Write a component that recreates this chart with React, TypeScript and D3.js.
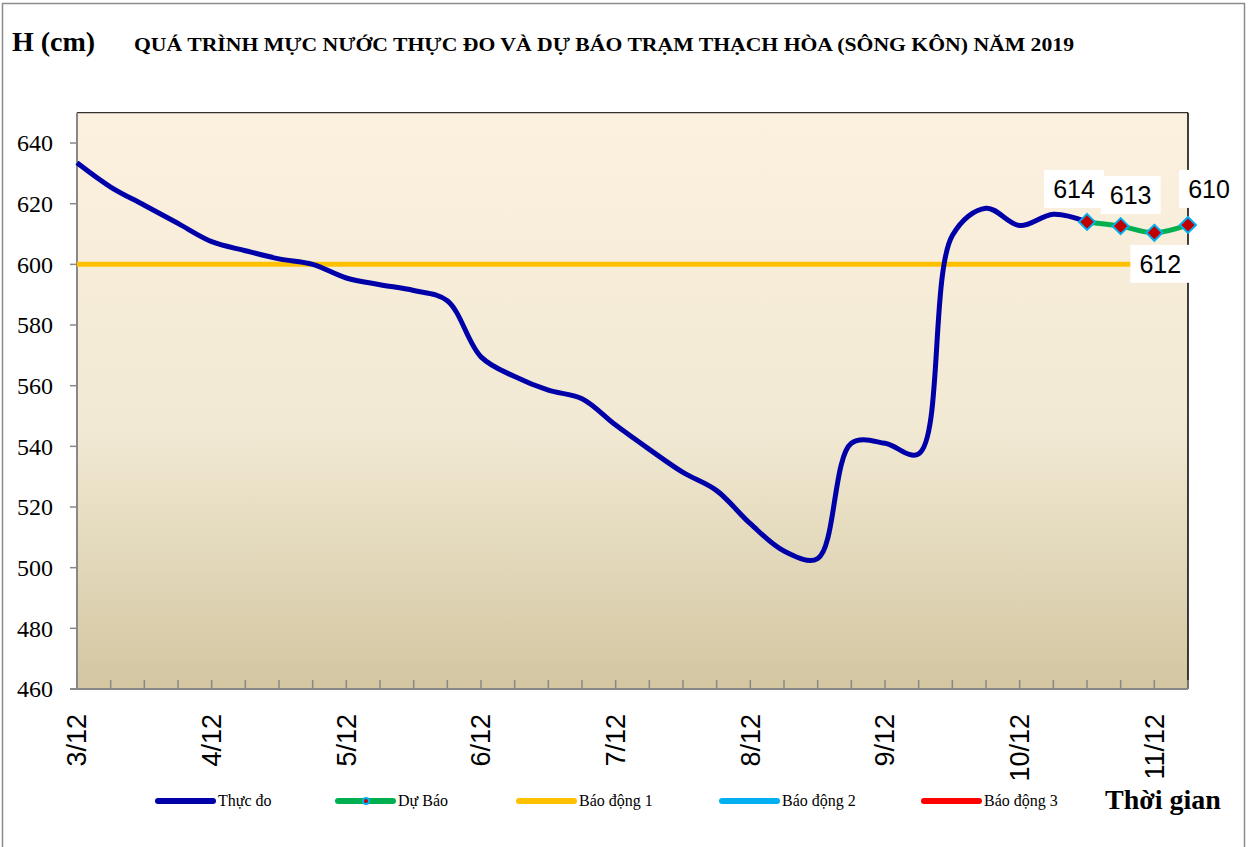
import * as d3 from 'd3';

// mực nước thực đo, mỗi 6 giờ từ 3/12
const observed = [
  633.5, 625.5, 619.5, 613.5, 607.5, 604.5, 601.8, 600, 595.5, 593.3, 591.4, 588,
  569.5, 563, 558.5, 555.7, 547, 539, 531.4, 525.4, 514.5, 505.5, 503, 541,
  541, 537.5, 609.5, 618.5, 612.8, 616.5, 614,
];
// dự báo (bắt đầu tại điểm cuối thực đo)
const forecastStart = 30;
const forecast = [614, 612.6, 610.4, 613];
const forecastLabels = ['614', '613', '612', '610'];
const alarm1 = 600;
const dayLabels = ['3/12', '4/12', '5/12', '6/12', '7/12', '8/12', '9/12', '10/12', '11/12'];
const yTicks = [460, 480, 500, 520, 540, 560, 580, 600, 620, 640];
const stepsPerDay = 4;
const totalSteps = 33;

const legendItems = [
  { name: 'Thực đo', color: '#0000A8', x: 158 },
  { name: 'Dự Báo', color: '#00B050', x: 338, marker: true },
  { name: 'Báo động 1', color: '#FFC000', x: 519 },
  { name: 'Báo động 2', color: '#00B0F0', x: 722 },
  { name: 'Báo động 3', color: '#FF0000', x: 924 },
];

const W = 1254;
const H = 847;
const plot = { left: 77, right: 1188, top: 112.7, bottom: 689 };

export default function App() {
  const x = d3.scaleLinear().domain([0, totalSteps]).range([plot.left, plot.right]);
  const y = d3.scaleLinear().domain([460, 650]).range([plot.bottom, plot.top]);

  const line = d3
    .line<number>()
    .x((d, i) => x(i))
    .y((d) => y(d))
    .curve(d3.curveCatmullRom.alpha(0.5));
  const fLine = d3
    .line<number>()
    .x((d, i) => x(forecastStart + i))
    .y((d) => y(d))
    .curve(d3.curveCatmullRom.alpha(0.5));

  const serif = '"Liberation Serif", "Times New Roman", serif';
  const sans = '"Liberation Sans", Arial, sans-serif';

  // vị trí nhãn dữ liệu (dx, dy so với điểm)
  const labelOffsets = [
    [-13, -33],
    [10, -31],
    [6, 31],
    [21, -36],
  ];

  const diamond = (cx: number, cy: number, r: number) =>
    `M${cx},${cy - r}L${cx + r},${cy}L${cx},${cy + r}L${cx - r},${cy}Z`;

  return (
    <svg
      width={W}
      height={H}
      style={{ position: 'absolute', left: 0, top: 0, background: '#fff' }}
    >
      <defs>
        <linearGradient id="bg" x1="0" y1="0" x2="0" y2="1">
          <stop offset="0" stopColor="#FCF1DF" />
          <stop offset="0.55" stopColor="#F1E9D3" />
          <stop offset="1" stopColor="#D3C6A1" />
        </linearGradient>
      </defs>
      <rect x={2.5} y={3.5} width={1242} height={845} fill="#fff" stroke="#8c8c8c" strokeWidth={1.5} />

      <text x={12} y={51} fontFamily={serif} fontWeight="bold" fontSize={28}>
        H (cm)
      </text>
      <text
        x={134}
        y={51}
        fontFamily={serif}
        fontWeight="bold"
        fontSize={19}
        textLength={940}
        lengthAdjust="spacingAndGlyphs"
      >
        QUÁ TRÌNH MỰC NƯỚC THỰC ĐO VÀ DỰ BÁO TRẠM THẠCH HÒA (SÔNG KÔN) NĂM 2019
      </text>

      <rect
        x={plot.left}
        y={plot.top}
        width={plot.right - plot.left}
        height={plot.bottom - plot.top}
        fill="url(#bg)"
      />
      <line x1={plot.left} x2={plot.right} y1={plot.top} y2={plot.top} stroke="#000" strokeWidth={1} />
      <line x1={plot.right} x2={plot.right} y1={plot.top} y2={plot.bottom} stroke="#000" strokeWidth={1.5} />

      {/* trục Y */}
      <line x1={plot.left} x2={plot.left} y1={plot.top} y2={plot.bottom} stroke="#888" strokeWidth={2} />
      {yTicks.map((t) => (
        <g key={t}>
          <line x1={plot.left - 7} x2={plot.left} y1={y(t)} y2={y(t)} stroke="#888" strokeWidth={1.5} />
          <text
            x={53}
            y={y(t)}
            dy="0.35em"
            textAnchor="end"
            fontFamily={serif}
            fontSize={24}
          >
            {t}
          </text>
        </g>
      ))}

      {/* trục X */}
      <line x1={plot.left - 7} x2={plot.right} y1={plot.bottom} y2={plot.bottom} stroke="#888" strokeWidth={2} />
      {d3.range(1, totalSteps + 1).map((i) => (
        <line key={i} x1={x(i)} x2={x(i)} y1={plot.bottom} y2={plot.bottom - 9} stroke="#888" strokeWidth={1.5} />
      ))}
      {dayLabels.map((d, k) => (
        <text
          key={d}
          transform={`translate(${x(k * stepsPerDay)},714) rotate(-90)`}
          dy="0.35em"
          textAnchor="end"
          fontFamily={sans}
          fontSize={27}
        >
          {d}
        </text>
      ))}

      {/* báo động 1 */}
      <line x1={plot.left} x2={plot.right} y1={y(alarm1)} y2={y(alarm1)} stroke="#FFC000" strokeWidth={5} />

      <path d={line(observed) ?? ''} fill="none" stroke="#0000A8" strokeWidth={5} strokeLinejoin="round" />
      <path d={fLine(forecast) ?? ''} fill="none" stroke="#00B050" strokeWidth={5} strokeLinejoin="round" />
      {forecast.map((v, i) => (
        <path
          key={i}
          d={diamond(x(forecastStart + i), y(v), 8)}
          fill="#C00000"
          stroke="#00B0F0"
          strokeWidth={2}
        />
      ))}

      {forecast.map((v, i) => {
        const cx = x(forecastStart + i) + labelOffsets[i][0];
        const cy = y(v) + labelOffsets[i][1];
        return (
          <g key={i}>
            <rect x={cx - 30} y={cy - 19} width={60} height={38} fill="#fff" />
            <text x={cx} y={cy} dy="0.35em" textAnchor="middle" fontFamily={sans} fontSize={25}>
              {forecastLabels[i]}
            </text>
          </g>
        );
      })}

      {/* chú giải */}
      {legendItems.map((it) => (
        <g key={it.name}>
          <line
            x1={it.x}
            x2={it.x + 55}
            y1={801}
            y2={801}
            stroke={it.color}
            strokeWidth={6}
            strokeLinecap="round"
          />
          {it.marker && (
            <>
              <circle cx={it.x + 28} cy={801} r={4} fill="#00B0F0" />
              <circle cx={it.x + 28} cy={801} r={2} fill="#C00000" />
            </>
          )}
          <text x={it.x + 60} y={806} fontFamily={serif} fontSize={16}>
            {it.name}
          </text>
        </g>
      ))}
      <text x={1105} y={809} fontFamily={serif} fontWeight="bold" fontSize={28}>
        Thời gian
      </text>
    </svg>
  );
}
